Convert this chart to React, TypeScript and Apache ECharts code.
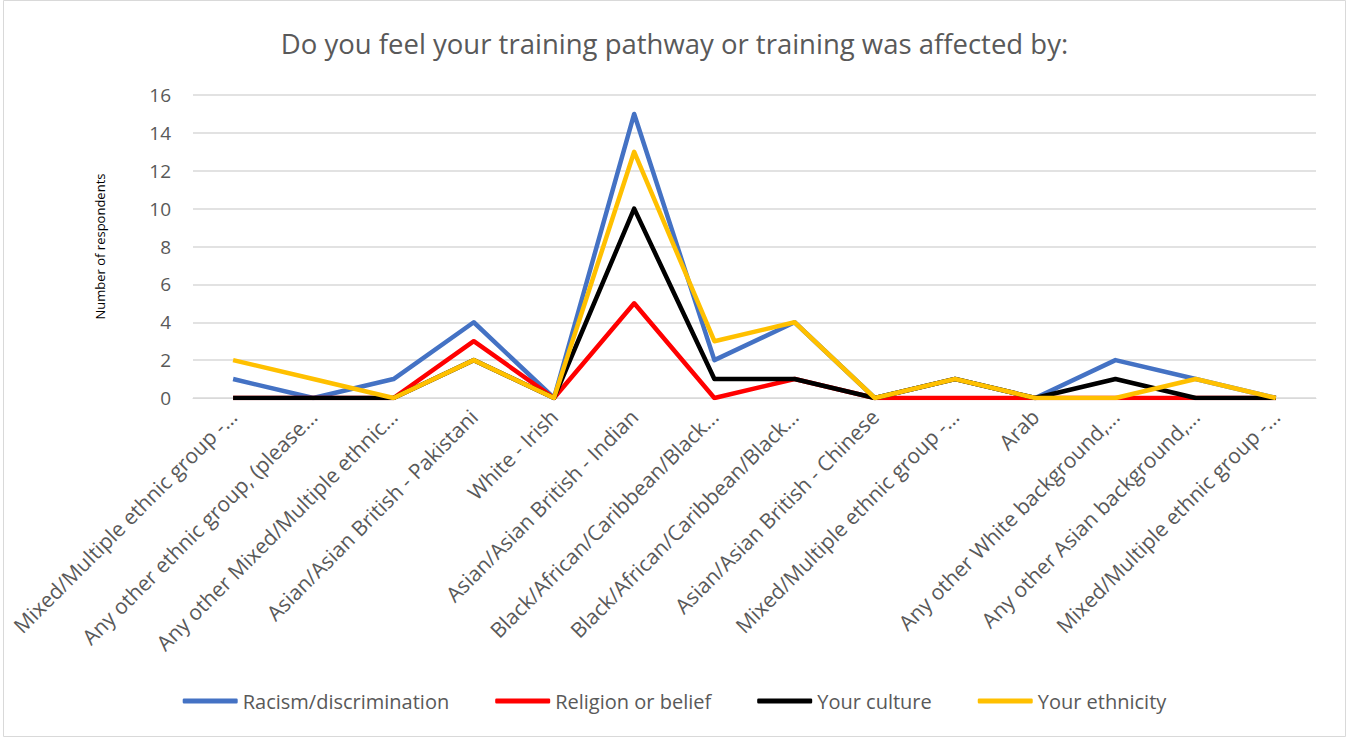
import React, { useEffect, useRef } from "react";
import * as echarts from "echarts";

const categories = [
  "Mixed/Multiple ethnic group -...",
  "Any other ethnic group, (please...",
  "Any other Mixed/Multiple ethnic...",
  "Asian/Asian British - Pakistani",
  "White - Irish",
  "Asian/Asian British - Indian",
  "Black/African/Caribbean/Black...",
  "Black/African/Caribbean/Black...",
  "Asian/Asian British - Chinese",
  "Mixed/Multiple ethnic group -...",
  "Arab",
  "Any other White background,...",
  "Any other Asian background,...",
  "Mixed/Multiple ethnic group -...",
];

const racism = [1, 0, 1, 4, 0, 15, 2, 4, 0, 1, 0, 2, 1, 0];
const religion = [0, 0, 0, 3, 0, 5, 0, 1, 0, 0, 0, 0, 0, 0];
const culture = [0, 0, 0, 2, 0, 10, 1, 1, 0, 1, 0, 1, 0, 0];
const ethnicity = [2, 1, 0, 2, 0, 13, 3, 4, 0, 1, 0, 0, 1, 0];

const seriesNames = ["Racism/discrimination", "Religion or belief", "Your culture", "Your ethnicity"];
const seriesColors = ["#4472C4", "#FF0000", "#000000", "#FFC000"];
const seriesData = [racism, religion, culture, ethnicity];

const FONT = "'Open Sans', 'Liberation Sans', sans-serif";

export default function App() {
  const ref = useRef<HTMLDivElement>(null);
  useEffect(() => {
    if (!ref.current) return;
    const chart = echarts.init(ref.current, null, { renderer: "svg" });
    chart.setOption({
      animation: false,
      backgroundColor: "#ffffff",
      title: {
        text: "Do you feel your training pathway or training was affected by:",
        left: "center",
        top: 24,
        textStyle: { fontFamily: FONT, fontSize: 27.5, fontWeight: "normal", color: "#595959" },
      },
      graphic: [
        {
          type: "rect",
          shape: { x: 3.5, y: 0.5, width: 1342, height: 736 },
          style: { fill: "none", stroke: "#d9d9d9", lineWidth: 1 },
          silent: true,
        },
      ],
      legend: {
        top: 686,
        left: "center",
        itemGap: 46,
        itemWidth: 55,
        itemHeight: 5,
        icon: "roundRect",
        textStyle: { fontFamily: FONT, fontSize: 20, color: "#595959" },
        data: seriesNames,
      },
      grid: { left: 193, right: 33, top: 95, bottom: 341 },
      xAxis: {
        type: "category",
        data: categories,
        boundaryGap: true,
        axisLine: { show: true, lineStyle: { color: "#d9d9d9" } },
        axisTick: { show: false },
        axisLabel: {
          rotate: 45,
          interval: 0,
          fontFamily: FONT,
          fontSize: 21,
          color: "#595959",
          margin: 15,
        },
      },
      yAxis: {
        type: "value",
        min: 0,
        max: 16,
        interval: 2,
        name: "Number of respondents",
        nameLocation: "middle",
        nameGap: 87,
        nameTextStyle: { fontFamily: FONT, fontSize: 13, color: "#000000" },
        axisLine: { show: false },
        axisTick: { show: false },
        splitLine: { lineStyle: { color: "#d9d9d9", width: 1.5 } },
        axisLabel: { fontFamily: FONT, fontSize: 19, color: "#595959", margin: 22 },
      },
      series: seriesNames.map((name, i) => ({
        name,
        type: "line",
        data: seriesData[i],
        symbol: "none",
        color: seriesColors[i],
        lineStyle: { color: seriesColors[i], width: 4.5, join: "round" },
        z: 2 + i,
      })),
    });
    return () => chart.dispose();
  }, []);
  return (
    <div
      ref={ref}
      style={{ position: "absolute", left: 0, top: 0, width: 1349, height: 739 }}
    />
  );
}
